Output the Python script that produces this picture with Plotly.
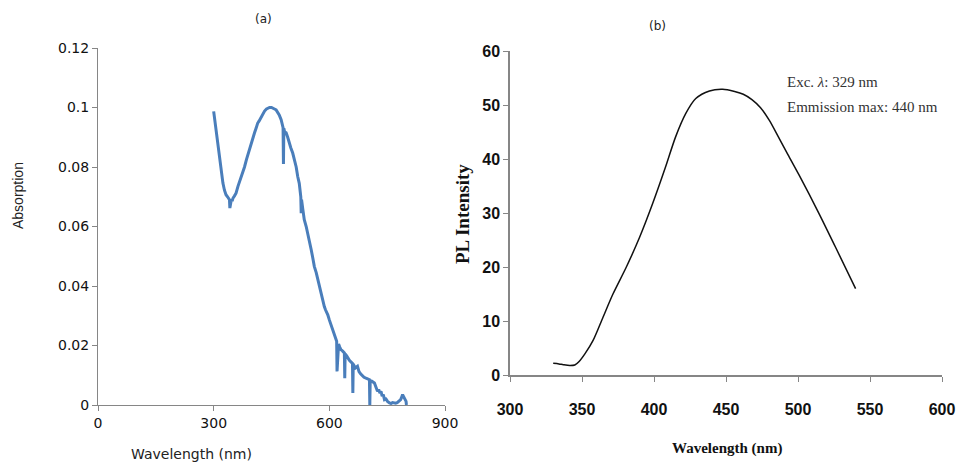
import plotly.graph_objects as go

# ---- Panel (a): absorption spectrum ----
abs_wavelength = [300, 303, 307, 311, 315, 320, 324, 328, 332, 336, 339, 341, 342, 344, 346, 348, 350, 354, 358,
                  363, 368, 372, 376, 380, 385, 389, 393, 398, 402, 406, 410, 414, 418, 422, 427, 432, 437, 441, 445,
                  450, 455, 459, 462, 466, 470, 475, 478, 480, 481, 482, 484, 488, 492, 496, 500, 505, 510, 514, 518,
                  522, 526, 527, 528, 531, 535, 540, 544, 548, 553, 557, 561, 566, 570, 575, 579, 583, 587, 590, 593,
                  596, 600, 604, 608, 613, 616, 618, 619, 620, 624, 627, 630, 634, 637, 639, 640, 641, 645, 648, 652,
                  656, 660, 661, 662, 664, 668, 673, 677, 681, 686, 690, 695, 699, 702, 704, 705, 706, 710, 713, 717,
                  721, 725, 728, 731, 734, 737, 740, 743, 747, 751, 756, 760, 764, 768, 772, 776, 781, 785, 788, 790,
                  792, 795, 797, 799, 800]
abs_value = [0.0987, 0.0955, 0.0914, 0.0868, 0.0824, 0.0782, 0.0746, 0.0722, 0.0707, 0.0700, 0.0695, 0.0690,
             0.0662, 0.0688, 0.0692, 0.0685, 0.0695, 0.0703, 0.0712, 0.0735, 0.0755, 0.0768, 0.0780, 0.0800,
             0.0825, 0.0843, 0.0860, 0.0880, 0.0905, 0.0915, 0.0930, 0.0947, 0.0955, 0.0965, 0.0980, 0.0988,
             0.0995, 0.0998, 0.1000, 0.1000, 0.0998, 0.0994, 0.0992, 0.0985, 0.0975, 0.0959, 0.0945, 0.0932,
             0.0810, 0.0930, 0.0918, 0.0915, 0.0900, 0.0880, 0.0865, 0.0847, 0.0825, 0.0800, 0.0768, 0.0745,
             0.0700, 0.0645, 0.0690, 0.0660, 0.0623, 0.0600, 0.0578, 0.0552, 0.0522, 0.0495, 0.0466, 0.0445,
             0.0421, 0.0398, 0.0376, 0.0352, 0.0331, 0.0320, 0.0312, 0.0303, 0.0286, 0.0270, 0.0258, 0.0242,
             0.0230, 0.0220, 0.0214, 0.0113, 0.0205, 0.0195, 0.0186, 0.0182, 0.0178, 0.0175, 0.0090, 0.0172,
             0.0165, 0.0158, 0.0150, 0.0145, 0.0140, 0.0040, 0.0138, 0.0132, 0.0125, 0.0130, 0.0112, 0.0105,
             0.0096, 0.0093, 0.0090, 0.0088, 0.0086, 0.0085, 0.0000, 0.0082, 0.0080, 0.0078, 0.0074, 0.0060,
             0.0046, 0.0052, 0.0040, 0.0046, 0.0030, 0.0035, 0.0018, 0.0020, 0.0012, 0.0007, 0.0005, 0.0008,
             0.0007, 0.0006, 0.0008, 0.0012, 0.0018, 0.0028, 0.0035, 0.0030, 0.0020, 0.0018, 0.0012, 0.0000]

abs_x_ticks = [0, 300, 600, 900]
abs_y_ticks = [0, 0.02, 0.04, 0.06, 0.08, 0.1, 0.12]
abs_y_labels = ["0", "0.02", "0.04", "0.06", "0.08", "0.1", "0.12"]

# ---- Panel (b): PL emission spectrum ----
pl_wavelength = [330, 334, 337, 341.5, 345, 348, 352, 357.7, 364.6, 371.5, 380.8, 390, 399, 408, 415, 422, 429,
                 438.5, 447.7, 456, 462, 468, 474, 480, 486, 493, 500.8, 514.6, 526, 540]
pl_intensity = [2.16, 2.05, 1.9, 1.75, 1.85, 2.5, 3.9, 6.4, 10.7, 15.0, 20.0, 25.5, 31.7, 38.5, 44.1, 48.4,
                51.2, 52.6, 52.9, 52.5, 52.0, 51.0, 49.5, 47.2, 44.3, 40.8, 37.0, 29.9, 23.7, 16.0]

pl_x_ticks = [300, 350, 400, 450, 500, 550, 600]
pl_y_ticks = [0, 10, 20, 30, 40, 50, 60]

W, H = 956, 464
def fx(px):
    return px / W
def fy(py):
    return 1 - py / H

fig = go.Figure()
fig.add_trace(go.Scatter(x=abs_wavelength, y=abs_value, mode="lines",
                         line=dict(color="#4A7EBB", width=3), xaxis="x", yaxis="y", showlegend=False))
fig.add_trace(go.Scatter(x=pl_wavelength, y=pl_intensity, mode="lines",
                         line=dict(color="#111111", width=1.5, shape="spline", smoothing=0.8),
                         xaxis="x2", yaxis="y2", showlegend=False))

axis_gray = "#868686"
sans = "DejaVu Sans"
serif = "Liberation Serif"

common = dict(showgrid=False, zeroline=False, showline=True, linecolor=axis_gray,
              ticks="outside", ticklen=5, tickcolor=axis_gray, automargin=False)

fig.update_layout(
    width=W, height=H,
    margin=dict(l=0, r=0, t=0, b=0),
    paper_bgcolor="white", plot_bgcolor="white",
    xaxis=dict(domain=[fx(98), fx(445)], range=[0, 900], tickvals=abs_x_ticks, linewidth=1,
               tickfont=dict(family=sans, size=14, color="#111"), anchor="y", **common),
    yaxis=dict(domain=[fy(405), fy(48)], range=[0, 0.12], tickvals=abs_y_ticks, ticktext=abs_y_labels,
               linewidth=1, tickfont=dict(family=sans, size=14, color="#111"), anchor="x", **common),
    xaxis2=dict(domain=[fx(510), fx(942)], range=[300, 600], tickvals=pl_x_ticks, linewidth=1.5,
                tickfont=dict(family="Liberation Sans", size=16, color="#111", weight="bold"), anchor="y2",
                **common),
    yaxis2=dict(domain=[fy(375), fy(51)], range=[0, 60], tickvals=pl_y_ticks, linewidth=1.5,
                tickfont=dict(family="Liberation Sans", size=16, color="#111", weight="bold"), anchor="x2",
                **common),
)
fig.layout.xaxis2.ticklabelstandoff = 14

annotations = [
    dict(text="(a)", x=fx(263), y=fy(19), font=dict(family=sans, size=12, color="#222")),
    dict(text="Absorption", x=fx(18), y=fy(196), textangle=-90, font=dict(family="Liberation Sans", size=14, color="#222")),
    dict(text="Wavelength (nm)", x=fx(191), y=fy(454), font=dict(family=sans, size=14, color="#222")),
    dict(text="(b)", x=fx(657), y=fy(26), font=dict(family=sans, size=12, color="#222")),
    dict(text="<b>PL Intensity</b>", x=fx(462), y=fy(214), textangle=-90, font=dict(family=serif, size=19, color="#111")),
    dict(text="<b>Wavelength (nm)</b>", x=fx(727), y=fy(448), font=dict(family=serif, size=15, color="#111")),
    dict(text="Exc. <i>λ</i>: 329 nm", x=fx(785), y=fy(82), xanchor="left", font=dict(family=serif, size=15, color="#333")),
    dict(text="Emmission max: 440 nm", x=fx(785), y=fy(107), xanchor="left", font=dict(family=serif, size=15, color="#333")),
]
for a in annotations:
    a.setdefault("xanchor", "center")
    fig.add_annotation(xref="paper", yref="paper", showarrow=False, yanchor="middle", **a)

fig.write_html("out.html", config={"displayModeBar": False},
               post_script="document.body.style.margin='0';document.body.style.overflow='hidden';")
